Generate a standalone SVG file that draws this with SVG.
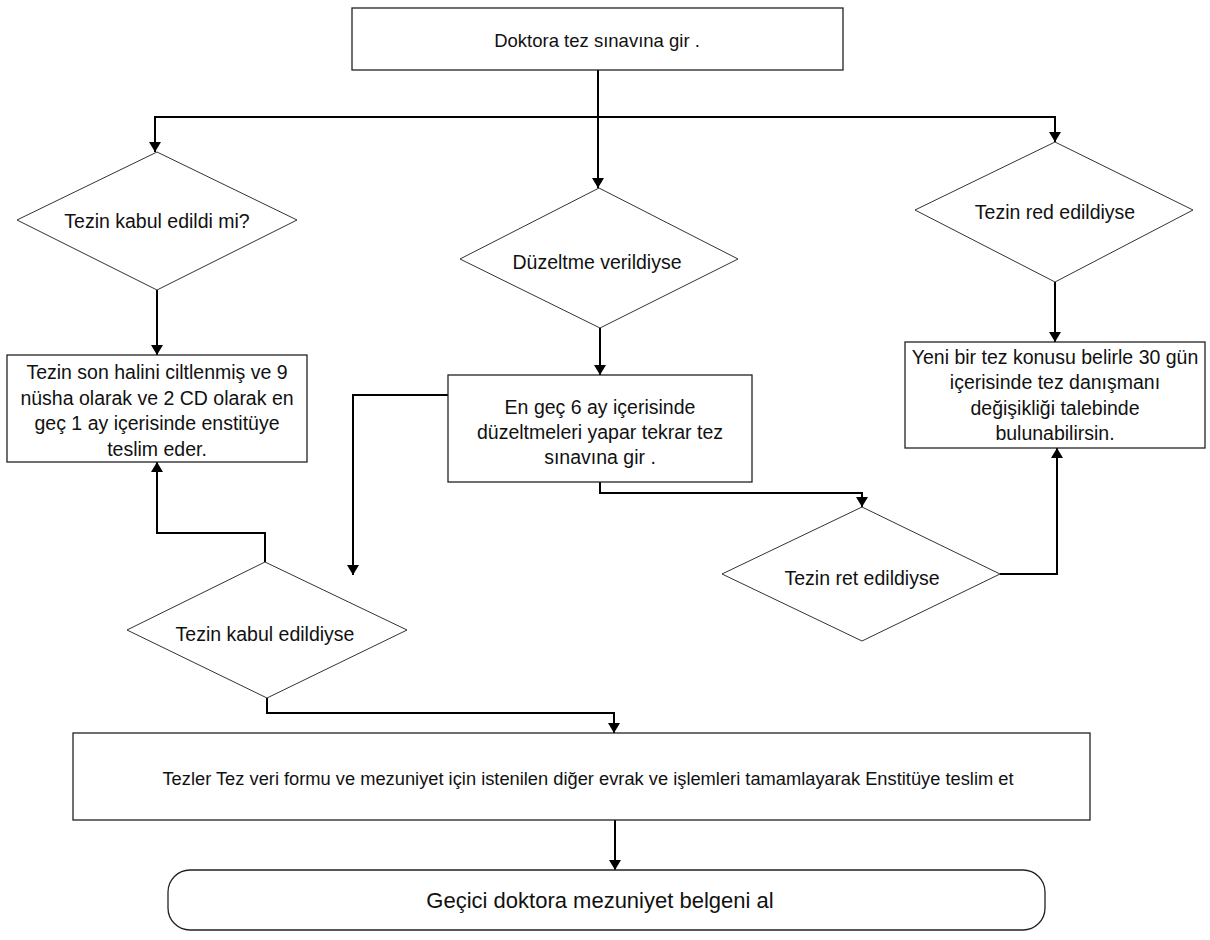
<svg xmlns="http://www.w3.org/2000/svg" width="1210" height="940" viewBox="0 0 1210 940">
  <defs>
    <marker id="arrow" viewBox="0 0 10 12" refX="10" refY="6" markerWidth="10" markerHeight="12" markerUnits="userSpaceOnUse" orient="auto">
      <path d="M0,0 L10,6 L0,12 Z" fill="#000"/>
    </marker>
    <style>
      .box { fill: #fff; stroke: #222; stroke-width: 1.3; }
      .dia { fill: #fff; stroke: #333; stroke-width: 1; }
      .txt { font-family: "Liberation Sans", Arial, sans-serif; fill: #111; text-anchor: middle; dominant-baseline: central; }
      .t-top { font-size: 18.5px; }
      .t-dia { font-size: 19.5px; }
      .t-box { font-size: 19.5px; }
      .t-wide { font-size: 18.3px; }
      .t-end { font-size: 22px; }
      .conn { fill: none; stroke: #000; stroke-width: 2; marker-end: url(#arrow); }
    </style>
  </defs>
  <rect width="1210" height="940" fill="#fff"/>

  <!-- connectors -->
  <g id="connectors">
    <path class="conn" d="M598,70 L598,188"/>
    <path class="conn" d="M598,117 L155,117 L155,152"/>
    <path class="conn" d="M598,117 L1055,117 L1055,142"/>
    <path class="conn" d="M157,290 L157,355"/>
    <path class="conn" d="M600,328 L600,375"/>
    <path class="conn" d="M1055,282 L1055,342"/>
    <path class="conn" d="M448,395 L353,395 L353,575"/>
    <path class="conn" d="M600,482 L600,493 L862,493 L862,507"/>
    <path class="conn" d="M1000,574 L1057,574 L1057,448"/>
    <path class="conn" d="M265,562 L265,533 L157,533 L157,462"/>
    <path class="conn" d="M267,698 L267,713 L614,713 L614,733"/>
    <path class="conn" d="M615,820 L615,870"/>
  </g>

  <!-- start -->
  <g id="start">
    <rect class="box" x="352" y="8" width="491" height="62"/>
    <text class="txt t-top" x="597" y="40">Doktora tez sınavına gir .</text>
  </g>

  <!-- decisions, first level -->
  <g id="accepted">
    <polygon class="dia" points="157,152 297,220 157,290 17,220"/>
    <text class="txt t-dia" x="157" y="221">Tezin kabul edildi mi?</text>
  </g>
  <g id="correction">
    <polygon class="dia" points="599,188 738,259 600,328 460,259"/>
    <text class="txt t-dia" x="597" y="262">Düzeltme verildiyse</text>
  </g>
  <g id="rejected">
    <polygon class="dia" points="1055,142 1193,210 1055,282 915,210"/>
    <text class="txt t-dia" x="1055" y="212">Tezin red edildiyse</text>
  </g>

  <!-- actions -->
  <g id="submit-final">
    <rect class="box" x="7" y="355" width="300" height="107"/>
    <text class="txt t-box" x="157" y="372">Tezin son halini ciltlenmiş ve 9</text>
    <text class="txt t-box" x="157" y="398">nüsha olarak ve 2 CD olarak en</text>
    <text class="txt t-box" x="157" y="423">geç 1 ay içerisinde enstitüye</text>
    <text class="txt t-box" x="157" y="449">teslim eder.</text>
  </g>
  <g id="revise">
    <rect class="box" x="448" y="375" width="304" height="107"/>
    <text class="txt t-box" x="600" y="407">En geç 6 ay içerisinde</text>
    <text class="txt t-box" x="600" y="432">düzeltmeleri yapar tekrar tez</text>
    <text class="txt t-box" x="600" y="457">sınavına gir .</text>
  </g>
  <g id="new-topic">
    <rect class="box" x="905" y="342" width="300" height="106"/>
    <text class="txt t-box" x="1055" y="357">Yeni bir tez konusu belirle 30 gün</text>
    <text class="txt t-box" x="1055" y="382">içerisinde tez danışmanı</text>
    <text class="txt t-box" x="1055" y="408">değişikliği talebinde</text>
    <text class="txt t-box" x="1055" y="433">bulunabilirsin.</text>
  </g>

  <!-- decisions, second level -->
  <g id="re-rejected">
    <polygon class="dia" points="862,507 1000,574 862,641 722,574"/>
    <text class="txt t-dia" x="862" y="578">Tezin ret edildiyse</text>
  </g>
  <g id="re-accepted">
    <polygon class="dia" points="265,562 407,630 267,698 127,630"/>
    <text class="txt t-dia" x="265" y="634">Tezin kabul edildiyse</text>
  </g>

  <!-- final steps -->
  <g id="paperwork">
    <rect class="box" x="73" y="733" width="1017" height="87"/>
    <text class="txt t-wide" x="588" y="778">Tezler Tez veri formu ve mezuniyet için istenilen diğer evrak ve işlemleri tamamlayarak Enstitüye teslim et</text>
  </g>
  <g id="graduate">
    <rect class="box" x="168" y="870" width="877" height="60" rx="22" ry="22"/>
    <text class="txt t-end" x="600" y="900">Geçici doktora mezuniyet belgeni al</text>
  </g>
</svg>
